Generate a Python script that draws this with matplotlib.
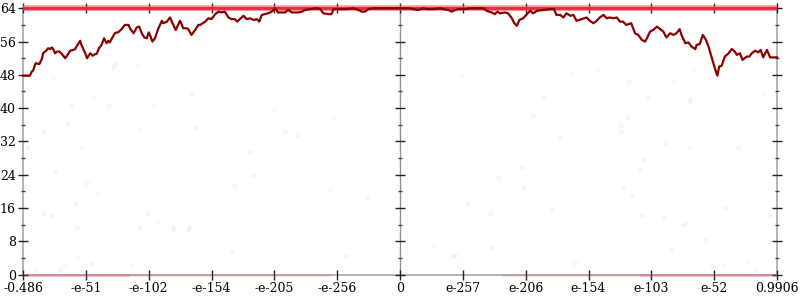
import matplotlib
matplotlib.use("Agg")
import matplotlib.pyplot as plt

# ---- data (x in ordinal tick units: -6 .. 6) ----
x_tick_pos = [-6, -5, -4, -3, -2, -1, 0, 1, 2, 3, 4, 5, 6]
x_tick_labels = ['-0.486', '-e-51', '-e-102', '-e-154', '-e-205', '-e-256', '0',
                 'e-257', 'e-206', 'e-154', 'e-103', 'e-52', '0.9906']
y_major = [0, 8, 16, 24, 32, 40, 48, 56, 64]
y_minor = [4, 12, 20, 28, 36, 44, 52, 60]

line_x = [-6.00, -5.89, -5.86, -5.84, -5.80, -5.74, -5.70, -5.68, -5.62, -5.60, -5.57, -5.54,
          -5.52, -5.49, -5.46, -5.42, -5.38, -5.33, -5.30, -5.25, -5.20, -5.17, -5.14, -5.09,
          -5.07, -5.01, -4.98, -4.93, -4.89, -4.85, -4.83, -4.79, -4.75, -4.71, -4.67, -4.64,
          -4.62, -4.57, -4.54, -4.48, -4.43, -4.38, -4.32, -4.29, -4.24, -4.19, -4.15, -4.11,
          -4.07, -4.03, -4.00, -3.97, -3.94, -3.90, -3.85, -3.79, -3.77, -3.71, -3.66, -3.62,
          -3.57, -3.50, -3.45, -3.40, -3.37, -3.32, -3.26, -3.21, -3.18, -3.10, -3.05, -3.00,
          -2.94, -2.89, -2.84, -2.79, -2.73, -2.68, -2.63, -2.59, -2.55, -2.49, -2.44, -2.39,
          -2.33, -2.28, -2.24, -2.20, -2.15, -2.10, -2.04, -1.99, -1.94, -1.83, -1.78, -1.72,
          -1.62, -1.56, -1.51, -1.43, -1.33, -1.27, -1.22, -1.14, -1.09, -1.06, -0.95, -0.85,
          -0.74, -0.66, -0.61, -0.56, -0.50, -0.42, 0.00, 0.16, 0.21, 0.29, 0.37, 0.42,
          0.53, 0.64, 0.69, 0.77, 0.82, 0.88, 0.93, 1.03, 1.11, 1.25, 1.33, 1.38,
          1.46, 1.51, 1.55, 1.59, 1.67, 1.72, 1.78, 1.82, 1.86, 1.90, 1.96, 2.02,
          2.07, 2.12, 2.18, 2.28, 2.39, 2.45, 2.49, 2.55, 2.60, 2.65, 2.71, 2.76,
          2.81, 2.89, 2.97, 3.02, 3.08, 3.13, 3.18, 3.24, 3.29, 3.34, 3.39, 3.45,
          3.50, 3.55, 3.60, 3.68, 3.74, 3.79, 3.85, 3.90, 3.93, 3.98, 4.03, 4.09,
          4.14, 4.19, 4.24, 4.30, 4.35, 4.40, 4.45, 4.48, 4.54, 4.59, 4.64, 4.70,
          4.72, 4.77, 4.82, 4.87, 4.91, 4.96, 5.01, 5.05, 5.08, 5.12, 5.17, 5.23,
          5.28, 5.33, 5.36, 5.41, 5.45, 5.52, 5.56, 5.60, 5.65, 5.70, 5.74, 5.78,
          5.84, 5.89, 6.00]
line_y = [47.8, 47.8, 48.8, 49.0, 50.8, 50.6, 51.8, 53.2, 54.0, 54.4, 54.2, 54.6,
          54.2, 53.2, 53.6, 53.6, 53.0, 52.0, 52.6, 53.8, 54.0, 54.2, 55.0, 56.2,
          55.2, 53.2, 52.0, 53.2, 52.6, 53.0, 53.0, 54.4, 55.2, 56.8, 55.6, 56.2,
          55.8, 57.2, 58.0, 58.3, 59.0, 60.0, 60.0, 59.0, 58.0, 59.4, 59.6, 58.0,
          57.0, 56.8, 58.2, 57.2, 56.0, 56.8, 59.0, 61.0, 60.4, 60.8, 61.8, 60.4,
          58.8, 61.0, 59.2, 59.2, 59.0, 57.6, 58.8, 60.0, 60.0, 60.8, 61.6, 61.4,
          62.6, 63.2, 63.0, 63.2, 61.8, 61.4, 61.4, 60.8, 61.4, 62.2, 61.4, 61.6,
          61.2, 61.4, 60.8, 62.4, 62.6, 62.8, 63.2, 64.0, 63.0, 63.0, 63.6, 63.0,
          63.0, 63.2, 63.6, 63.8, 64.0, 63.8, 62.8, 62.6, 62.6, 63.8, 63.8, 63.8,
          64.0, 63.6, 63.2, 63.2, 63.8, 64.0, 64.0, 64.0, 63.8, 63.6, 64.0, 63.8,
          63.8, 64.0, 63.8, 63.6, 63.2, 63.6, 63.8, 63.8, 64.0, 64.0, 64.0, 63.4,
          63.0, 62.6, 63.2, 62.8, 63.0, 62.8, 61.6, 60.4, 59.8, 61.2, 61.6, 62.6,
          63.4, 62.8, 63.4, 63.6, 63.8, 63.8, 62.4, 62.4, 61.8, 62.8, 62.2, 62.4,
          61.0, 61.4, 61.8, 61.0, 60.4, 61.0, 61.8, 62.4, 61.6, 61.8, 61.6, 61.8,
          60.8, 60.8, 60.0, 60.4, 58.0, 57.6, 56.4, 56.0, 56.8, 58.4, 58.8, 59.6,
          59.0, 58.4, 57.0, 58.0, 57.6, 58.0, 59.0, 57.6, 55.6, 55.8, 54.8, 54.2,
          55.2, 55.4, 57.6, 56.4, 54.8, 52.2, 49.6, 47.8, 50.0, 50.2, 52.4, 53.2,
          54.2, 53.6, 52.8, 53.2, 51.6, 52.4, 52.4, 53.2, 53.8, 53.4, 54.0, 52.2,
          54.0, 52.2, 52.2]

# faint scattered samples
pts_x = [-5.23, -4.63, -3.93, -5.28, -5.68, -4.15, -3.25, -5.94, -5.08, -5.49, -5.98, -4.98,
         -4.82, -5.16, -5.68, -5.54, -4.01, -3.85, -5.14, -4.14, -3.61, -3.36, -5.52, -4.87,
         -4.54, -4.57, -4.19, -3.33, -2.01, -1.05, -1.83, -1.64, -2.39, -2.34, -2.64, -1.11,
         -0.53, 2.28, 2.12, 2.55, 1.94, 1.56, 1.96, 1.08, 1.43, 2.42, 0.99, 2.72,
         3.15, 3.64, 3.95, 4.35, 4.68, 4.62, 5.78, 3.61, 3.52, 3.52, 4.62, 4.22,
         4.60, 5.38, 3.87, 3.82, 3.55, 3.69, 5.17, 3.85, 4.20, 4.55, 4.50, 5.89,
         -5.12, -5.33, -4.90, -4.27, -2.67, -0.86, -5.79, -5.41, -3.61, -3.37, 0.53, 0.83,
         0.88, 1.46, 2.79, 4.31, 4.85, 4.97, 5.16, 5.54, 5.65]
pts_y = [40.6, 40.6, 40.8, 36.3, 34.3, 35.1, 35.5, 30.5, 30.3, 24.7, 21.1, 21.9,
         19.5, 17.1, 14.9, 14.2, 14.7, 12.8, 11.3, 11.3, 11.3, 11.3, 47.3, 42.5,
         50.9, 49.9, 50.2, 43.4, 39.6, 37.9, 34.6, 33.6, 29.5, 24.0, 21.2, 20.2,
         18.7, 42.7, 38.2, 32.9, 25.9, 23.3, 21.1, 17.3, 14.7, 15.4, 47.8, 48.5,
         49.2, 46.3, 42.5, 46.3, 49.4, 42.2, 43.4, 37.9, 36.0, 34.3, 41.5, 31.7,
         30.3, 30.3, 27.6, 25.2, 20.7, 19.2, 16.1, 14.2, 13.7, 12.3, 11.8, 14.4,
         4.1, 2.0, 2.7, 2.4, 5.6, 4.4, 1.0, 1.0, 10.8, 10.8, 6.8, 4.4,
         4.6, 6.5, 2.7, 6.0, 8.2, 2.0, 2.4, 3.1, 1.0]

# dense clusters of samples at the extremes (drawn as bands)
top_band_x = [-6, 6]
top_band_y = [64, 64]
bottom_band_x = [[-6, -4.3], [-4.3, -1.1], [1.6, 3.8], [3.8, 6]]
bottom_band_y = [0, 0]
bottom_band_alpha = [0.30, 0.14, 0.14, 0.30]

plt.rcParams['font.family'] = ['DejaVu Serif']
fig = plt.figure(figsize=(8, 3), dpi=100)
ax = fig.add_axes([23/800, 25.5/300, 754/800, 266.2/300])

ax.set_xlim(-6, 6)
ax.set_ylim(0, 64)

# scattered points
ax.scatter(pts_x, pts_y, s=13, color='#ff2020', alpha=0.055, linewidths=0, zorder=2)

# bands of dense points
ax.plot(top_band_x, top_band_y, color='#ff6070', lw=4.2, alpha=0.55,
        solid_capstyle='butt', clip_on=False, zorder=3)
ax.plot(top_band_x, top_band_y, color='#e8202e', lw=2.4, alpha=0.85,
        solid_capstyle='butt', clip_on=False, zorder=3)
for seg, a in zip(bottom_band_x, bottom_band_alpha):
    ax.plot(seg, bottom_band_y, color='#ff3040', lw=2.2, alpha=a,
            solid_capstyle='butt', clip_on=False, zorder=3)

# central y axis at x = 0
ax.axvline(0, color='#909090', lw=1.0, zorder=1)
ax.plot([0] * len(y_major), y_major, ls='none', marker='_', ms=7.2, mew=1.0,
        color='#222222', zorder=1, clip_on=False)
ax.plot([0] * len(y_minor), y_minor, ls='none', marker='_', ms=3.0, mew=1.0,
        color='#444444', zorder=1)

# main line
ax.plot(line_x, line_y, color='#8b0000', lw=1.6, zorder=5, clip_on=False,
        solid_joinstyle='round')

# axes styling
for sp in ax.spines.values():
    sp.set_color('#b4b4b4')
    sp.set_linewidth(1.4)
    sp.set_zorder(0)

ax.set_xticks(x_tick_pos)
ax.set_xticklabels(x_tick_labels)
ax.set_yticks(y_major)
ax.set_yticklabels([str(v) for v in y_major])
ax.set_yticks(y_minor, minor=True)
ax.tick_params(axis='both', which='major', direction='inout', length=7.2, width=1.0,
               color='#222222', labelsize=9, labelcolor='black', pad=1.5)
ax.tick_params(axis='both', which='minor', direction='inout', length=3.0, width=1.0,
               color='#444444')
ax.tick_params(axis='x', top=True, bottom=True)
ax.tick_params(axis='y', left=True, right=True)
ax.tick_params(axis='y', which='minor', left=True, right=True)

fig.savefig('out.png', dpi=100)
